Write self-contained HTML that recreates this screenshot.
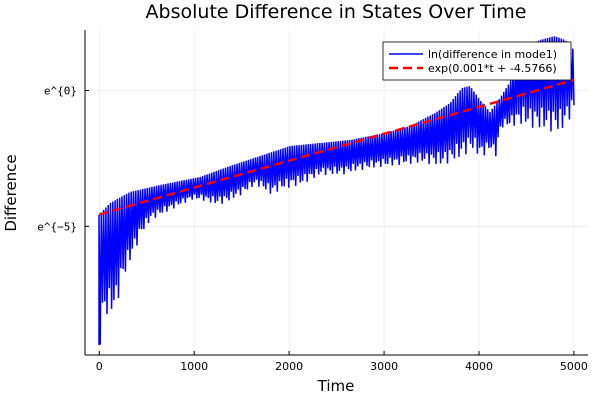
<!DOCTYPE html>
<html><head><meta charset="utf-8"><style>
body{margin:0;background:#fff;}
svg{display:block;font-family:"DejaVu Sans","Liberation Sans",sans-serif;}
</style></head><body>
<svg id="s" width="600" height="400" viewBox="0 0 600 400">
<rect width="600" height="400" fill="#fff"/>
<g stroke="#000" stroke-opacity="0.1" stroke-width="0.6">
<line x1="99.3" y1="30" x2="99.3" y2="355"/>
<line x1="194.2" y1="30" x2="194.2" y2="355"/>
<line x1="289.1" y1="30" x2="289.1" y2="355"/>
<line x1="384.1" y1="30" x2="384.1" y2="355"/>
<line x1="479" y1="30" x2="479" y2="355"/>
<line x1="573.9" y1="30" x2="573.9" y2="355"/>
<line x1="85" y1="90.5" x2="588" y2="90.5"/>
<line x1="85" y1="226.3" x2="588" y2="226.3"/>
</g>
<path id="blue" fill="none" stroke="#0000ff" stroke-width="1.5"/>
<line x1="99.3" y1="214.5" x2="573.9" y2="80" stroke="#ff0000" stroke-width="2.4" stroke-dasharray="9,5"/>
<g stroke="#000" stroke-width="1">
<line x1="85" y1="30" x2="85" y2="355"/>
<line x1="85" y1="355" x2="588" y2="355"/>
<line x1="99.3" y1="355" x2="99.3" y2="351"/><line x1="194.2" y1="355" x2="194.2" y2="351"/>
<line x1="289.1" y1="355" x2="289.1" y2="351"/><line x1="384.1" y1="355" x2="384.1" y2="351"/>
<line x1="479" y1="355" x2="479" y2="351"/><line x1="573.9" y1="355" x2="573.9" y2="351"/>
<line x1="85" y1="90.5" x2="89" y2="90.5"/><line x1="85" y1="226.3" x2="89" y2="226.3"/>
</g>
<g font-size="11" fill="#000" text-anchor="middle">
<text x="99.3" y="370">0</text><text x="194.2" y="370">1000</text><text x="289.1" y="370">2000</text>
<text x="384.1" y="370">3000</text><text x="479" y="370">4000</text><text x="573.9" y="370">5000</text>
</g>
<g font-size="11" fill="#000" text-anchor="end" font-family="DejaVu Sans Mono,monospace">
<text x="77" y="94.5">e^{0}</text><text x="77" y="230.5">e^{−5}</text>
</g>
<text x="336" y="391" font-size="15" text-anchor="middle">Time</text>
<text transform="translate(16,193) rotate(-90)" font-size="15" text-anchor="middle">Difference</text>
<text x="336" y="18" font-size="19" text-anchor="middle">Absolute Difference in States Over Time</text>
<rect x="383" y="42" width="188" height="38" fill="#fff" stroke="#000" stroke-width="0.8"/>
<line x1="389" y1="54" x2="423" y2="54" stroke="#0000ff" stroke-width="1.5"/>
<line x1="389" y1="68" x2="423" y2="68" stroke="#ff0000" stroke-width="2.4" stroke-dasharray="9,5"/>
<text x="428" y="58" font-size="11">ln(difference in mode1)</text>
<text x="428" y="72" font-size="11">exp(0.001*t + -4.5766)</text>
</svg>
<script>
function interp(pts,x){for(let i=0;i<pts.length-1;i++){if(x<=pts[i+1][0]){const a=pts[i],b=pts[i+1];return a[1]+(b[1]-a[1])*(x-a[0])/(b[0]-a[0]);}}return pts[pts.length-1][1];}
const up=[[99,215],[110,203],[130,192],[160,185],[200,177],[230,166],[260,156],[290,146],[320,143],[350,140],[385,133],[410,126],[435,113],[450,103],[462,88],[470,86],[480,100],[490,112],[500,98],[510,82],[520,50],[530,45],[540,40],[555,36],[565,40],[574,50]];
const lo=[[99,345],[102,318],[110,315],[115,310],[120,285],[130,260],[140,235],[150,220],[170,210],[190,200],[200,200],[215,205],[225,203],[240,195],[255,185],[270,195],[280,190],[300,185],[320,175],[340,175],[360,170],[380,167],[400,165],[420,163],[440,166],[460,158],[470,150],[480,158],[490,150],[494,160],[500,128],[520,125],[540,130],[560,133],[574,110]];
let d="M99,"+interp(lo,99);
for(let x=99;x<=574;x+=2.3){const u=interp(up,x),l=interp(lo,x);const j=(Math.sin(x*1.7)*0.5+0.5);d+=" L"+x.toFixed(1)+","+u.toFixed(1)+" L"+(x+1.15).toFixed(1)+","+(l-(l-u)*0.25*j).toFixed(1);}
document.getElementById("blue").setAttribute("d",d);
</script>
</body></html>
